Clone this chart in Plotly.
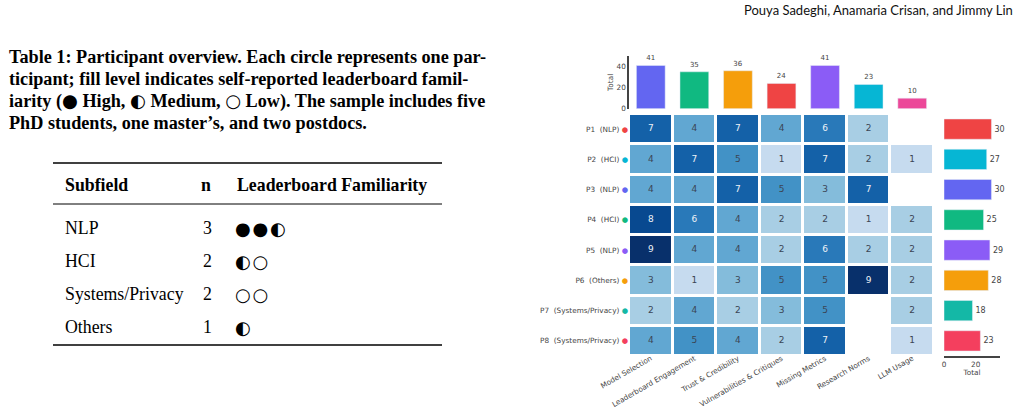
import plotly.graph_objects as go

W, H = 1022, 415

categories = ["Model Selection", "Leaderboard Engagement", "Trust & Credibility",
              "Vulnerabilities & Critiques", "Missing Metrics", "Research Norms", "LLM Usage"]
participants = ["P1", "P2", "P3", "P4", "P5", "P6", "P7", "P8"]
subfields = ["NLP", "HCI", "NLP", "HCI", "NLP", "Others", "Systems/Privacy", "Systems/Privacy"]
p1 = [7, 4, 7, 4, 6, 2, None]
p2 = [4, 7, 5, 1, 7, 2, 1]
p3 = [4, 4, 7, 5, 3, 7, None]
p4 = [8, 6, 4, 2, 2, 1, 2]
p5 = [9, 4, 4, 2, 6, 2, 2]
p6 = [3, 1, 3, 5, 5, 9, 2]
p7 = [2, 4, 2, 3, 5, None, 2]
p8 = [4, 5, 4, 2, 7, None, 1]
matrix = [p1, p2, p3, p4, p5, p6, p7, p8]
category_colors = ["#6366f1", "#10b981", "#f59e0b", "#ef4444", "#8b5cf6", "#06b6d4", "#ec4899"]
participant_colors = ["#ef4444", "#06b6d4", "#6366f1", "#10b981", "#8b5cf6", "#f59e0b", "#14b8a6", "#f43f5e"]

table_subfields = ["NLP", "HCI", "Systems/Privacy", "Others"]
table_n = ["3", "2", "2", "1"]
table_familiarity = ["●●◐", "◐○", "○○", "◐"]

col_totals = [sum(r[j] or 0 for r in matrix) for j in range(len(categories))]
row_totals = [sum(v or 0 for v in r) for r in matrix]


def xp(px):
    return px / W


def yp(py):
    return 1 - py / H


row_labels = [f"{p} \u00a0({s}) <span style='color:{c}'>●</span>"
              for p, s, c in zip(participants, subfields, participant_colors)]

# cell labels (scatter text so each can have its own colour)
cx, cy, ct, cc = [], [], [], []
for i, row in enumerate(matrix):
    for j, v in enumerate(row):
        if v is None:
            continue
        cx.append(j)
        cy.append(i)
        ct.append(str(v))
        cc.append("#eef2f7" if v >= 6 else "#3b4554")

fig = go.Figure()
fig.add_trace(go.Heatmap(
    z=matrix, x=list(range(7)), y=list(range(8)),
    colorscale="Blues", zmin=-1.667, zmax=9, showscale=False,
    xgap=3, ygap=3, hoverongaps=False, xaxis="x", yaxis="y"))
fig.add_trace(go.Scatter(
    x=cx, y=cy, text=ct, mode="text", textfont=dict(size=9, color=cc, family="DejaVu Sans"),
    hoverinfo="skip", xaxis="x", yaxis="y"))
fig.add_trace(go.Bar(
    x=list(range(7)), y=col_totals, marker_color=category_colors, width=0.66,
    text=col_totals, textposition="outside", cliponaxis=False,
    textfont=dict(size=7, color="#444", family="DejaVu Sans"),
    xaxis="x2", yaxis="y2"))
fig.add_trace(go.Bar(
    y=list(range(8)), x=row_totals, orientation="h", marker_color=participant_colors, width=0.67,
    text=row_totals, textposition="outside", cliponaxis=False,
    textfont=dict(size=8, color="#444", family="DejaVu Sans"),
    xaxis="x3", yaxis="y3"))

tick_font = dict(size=7.3, color="#444", family="DejaVu Sans")
hm_dom_x = [xp(629), xp(934)]
hm_dom_y = [yp(356), yp(114)]

fig.update_layout(
    width=W, height=H, margin=dict(l=0, r=0, t=0, b=0, autoexpand=False),
    paper_bgcolor="white", plot_bgcolor="white", showlegend=False,
    font=dict(family="DejaVu Sans"),
    xaxis=dict(domain=hm_dom_x, range=[-0.5, 6.5], tickvals=list(range(7)), ticktext=categories,
               tickangle=-30, tickfont=tick_font, showgrid=False, zeroline=False, ticks="",
               anchor="y", automargin=False, ticklabelstandoff=-4),
    yaxis=dict(domain=hm_dom_y, range=[7.5, -0.5], tickvals=list(range(8)), ticktext=row_labels,
               tickfont=tick_font, showgrid=False, zeroline=False, ticks="", anchor="x",
               automargin=False),
    xaxis2=dict(domain=hm_dom_x, range=[-0.5, 6.5], showticklabels=False, showgrid=False,
                zeroline=False, anchor="y2", automargin=False),
    yaxis2=dict(domain=[yp(108.7), yp(56)], range=[0, 50], tickvals=[0, 20, 40], tickfont=tick_font,
                showline=True, linecolor="#444", linewidth=1.5, showgrid=False, zeroline=False,
                ticks="", anchor="x2", automargin=False,
                title=dict(text="Total", font=tick_font, standoff=2)),
    xaxis3=dict(domain=[xp(944), xp(1000)], range=[0, 35.4], tickvals=[0, 20], tickfont=tick_font,
                showline=True, linecolor="#444", linewidth=1.5, showgrid=False, zeroline=False,
                ticks="", anchor="y3", automargin=False,
                title=dict(text="Total", font=tick_font, standoff=2)),
    yaxis3=dict(domain=hm_dom_y, range=[7.5, -0.5], showticklabels=False, showgrid=False,
                zeroline=False, anchor="x3", automargin=False),
)

ann = []


def A(x, y, text, font, xanchor="left"):
    ann.append(dict(x=xp(x), y=yp(y), xref="paper", yref="paper", text=text, xanchor=xanchor,
                    yanchor="middle", showarrow=False, font=font))


A(1015, 10, "Pouya Sadeghi, Anamaria Crisan, and Jimmy Lin",
  dict(family="Lato", size=13, color="#111"), xanchor="right")

sym = "<span style='font-family:DejaVu Sans;font-weight:normal'>{}</span>"
caption = [
    "Table 1: Participant overview. Each circle represents one par-",
    "ticipant; fill level indicates self-reported leaderboard famil-",
    f"iarity ({sym.format('●')} High, {sym.format('◐')} Medium, {sym.format('○')} Low). "
    "The sample includes five",
    "PhD students, one master’s, and two postdocs.",
]
for i, line in enumerate(caption):
    A(7, 57 + 22 * i, f"<b>{line}</b>", dict(family="Liberation Serif", size=18.2, color="black"))

serif = dict(family="Liberation Serif", size=17.8, color="black")
hy = 185
A(63, hy, "<b>Subfield</b>", serif)
A(206, hy, "<b>n</b>", serif, xanchor="center")
A(235, hy, "<b>Leaderboard Familiarity</b>", serif)
row_ys = [228, 261, 294, 327]
for s, n, f, ry in zip(table_subfields, table_n, table_familiarity, row_ys):
    A(63, ry, s, serif)
    A(207, ry, n, serif, xanchor="center")
    A(233, ry, "\u200a".join(f), dict(family="DejaVu Sans", size=18, color="black"))

shapes = []
for yy, lw in [(163, 1.6), (204, 1.0), (345, 1.6)]:
    shapes.append(dict(type="line", xref="paper", yref="paper", x0=xp(53), x1=xp(442),
                       y0=yp(yy), y1=yp(yy), line=dict(color="black", width=lw)))

fig.update_layout(annotations=ann, shapes=shapes)
fig.write_html("out.html")
